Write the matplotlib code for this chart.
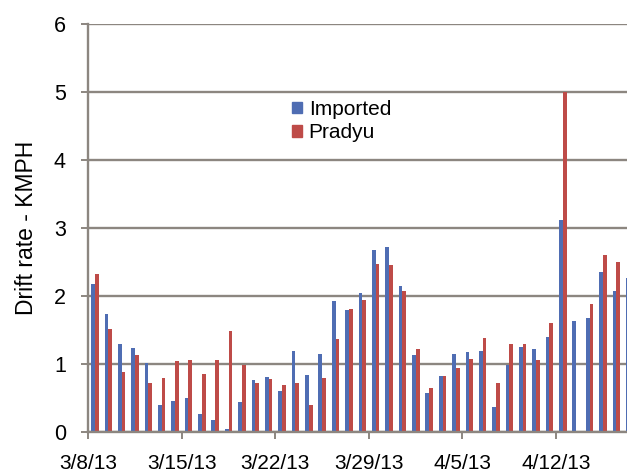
import matplotlib
matplotlib.use("Agg")
import matplotlib.pyplot as plt
from matplotlib.patches import Patch
import numpy as np

plt.rcParams['font.family'] = ['Liberation Sans', 'DejaVu Sans']

# Daily categories: 3/8/13 .. 4/17/13 (41 days; the last is clipped at the right edge)
n_days = 41
tick_days = [0, 7, 14, 21, 28, 35]
tick_labels = ["3/8/13", "3/15/13", "3/22/13", "3/29/13", "4/5/13", "4/12/13"]

imported = [2.18, 1.74, 1.30, 1.24, 1.02, 0.40, 0.46, 0.50, 0.27, 0.17,
            0.04, 0.44, 0.76, 0.81, 0.61, 1.19, 0.84, 1.14, 1.92, 1.79,
            2.05, 2.68, 2.72, 2.15, 1.13, 0.58, 0.82, 1.14, 1.18, 1.19,
            0.37, 0.99, 1.25, 1.22, 1.39, 3.12, 1.63, 1.68, 2.36, 2.08,
            2.26]
pradyu = [2.33, 1.51, 0.88, 1.13, 0.72, 0.80, 1.05, 1.06, 0.85, 1.06,
          1.49, 0.98, 0.72, 0.78, 0.69, 0.72, 0.39, 0.79, 1.37, 1.81,
          1.94, 2.47, 2.45, 2.07, 1.22, 0.64, 0.82, 0.94, 1.07, 1.38,
          0.72, 1.29, 1.30, 1.06, 1.60, 5.00, 0.0, 1.88, 2.61, 2.50,
          2.45]

blue = "#4F6DB3"
red = "#BE4B48"
grid_c = "#8C8680"

fig = plt.figure(figsize=(6.27, 4.74), dpi=100)
ax = fig.add_axes([88/627, 42/474, 1 - 88/627, 408/474])

x = np.arange(n_days)
w = 0.28
ax.bar(x + 0.375, imported, width=w, color=blue, zorder=3, label="Imported")
ax.bar(x + 0.655, pradyu, width=w, color=red, zorder=3, label="Pradyu")

ax.set_xlim(0, (627 - 88) / 13.37)
ax.set_ylim(0, 6)
ax.set_yticks(range(0, 7))
ax.set_xticks(tick_days)
ax.set_xticklabels(tick_labels)

ax.yaxis.grid(True, color=grid_c, linewidth=1.7, zorder=0)
ax.set_axisbelow(True)
for s in ["top", "right"]:
    ax.spines[s].set_visible(False)
for s in ["left", "bottom"]:
    ax.spines[s].set_color(grid_c)
    ax.spines[s].set_linewidth(1.7)
    ax.spines[s].set_zorder(4)

ax.tick_params(axis="y", length=5, width=1.4, color=grid_c, pad=11, labelsize=15.5)
ax.tick_params(axis="x", length=5, width=1.4, color=grid_c, pad=11, labelsize=15)
ax.set_ylabel("Drift rate - KMPH", fontsize=16.5, labelpad=11)

handles = [Patch(color=blue), Patch(color=red)]
fig.legend(handles, ["Imported", "Pradyu"], loc="center left",
           bbox_to_anchor=(292/627, 1 - 121/474), frameon=False,
           fontsize=15, handlelength=0.5, handleheight=0.5,
           handletextpad=0.3, labelspacing=0.2, borderpad=0, borderaxespad=0)

fig.savefig("out.png", dpi=100)
